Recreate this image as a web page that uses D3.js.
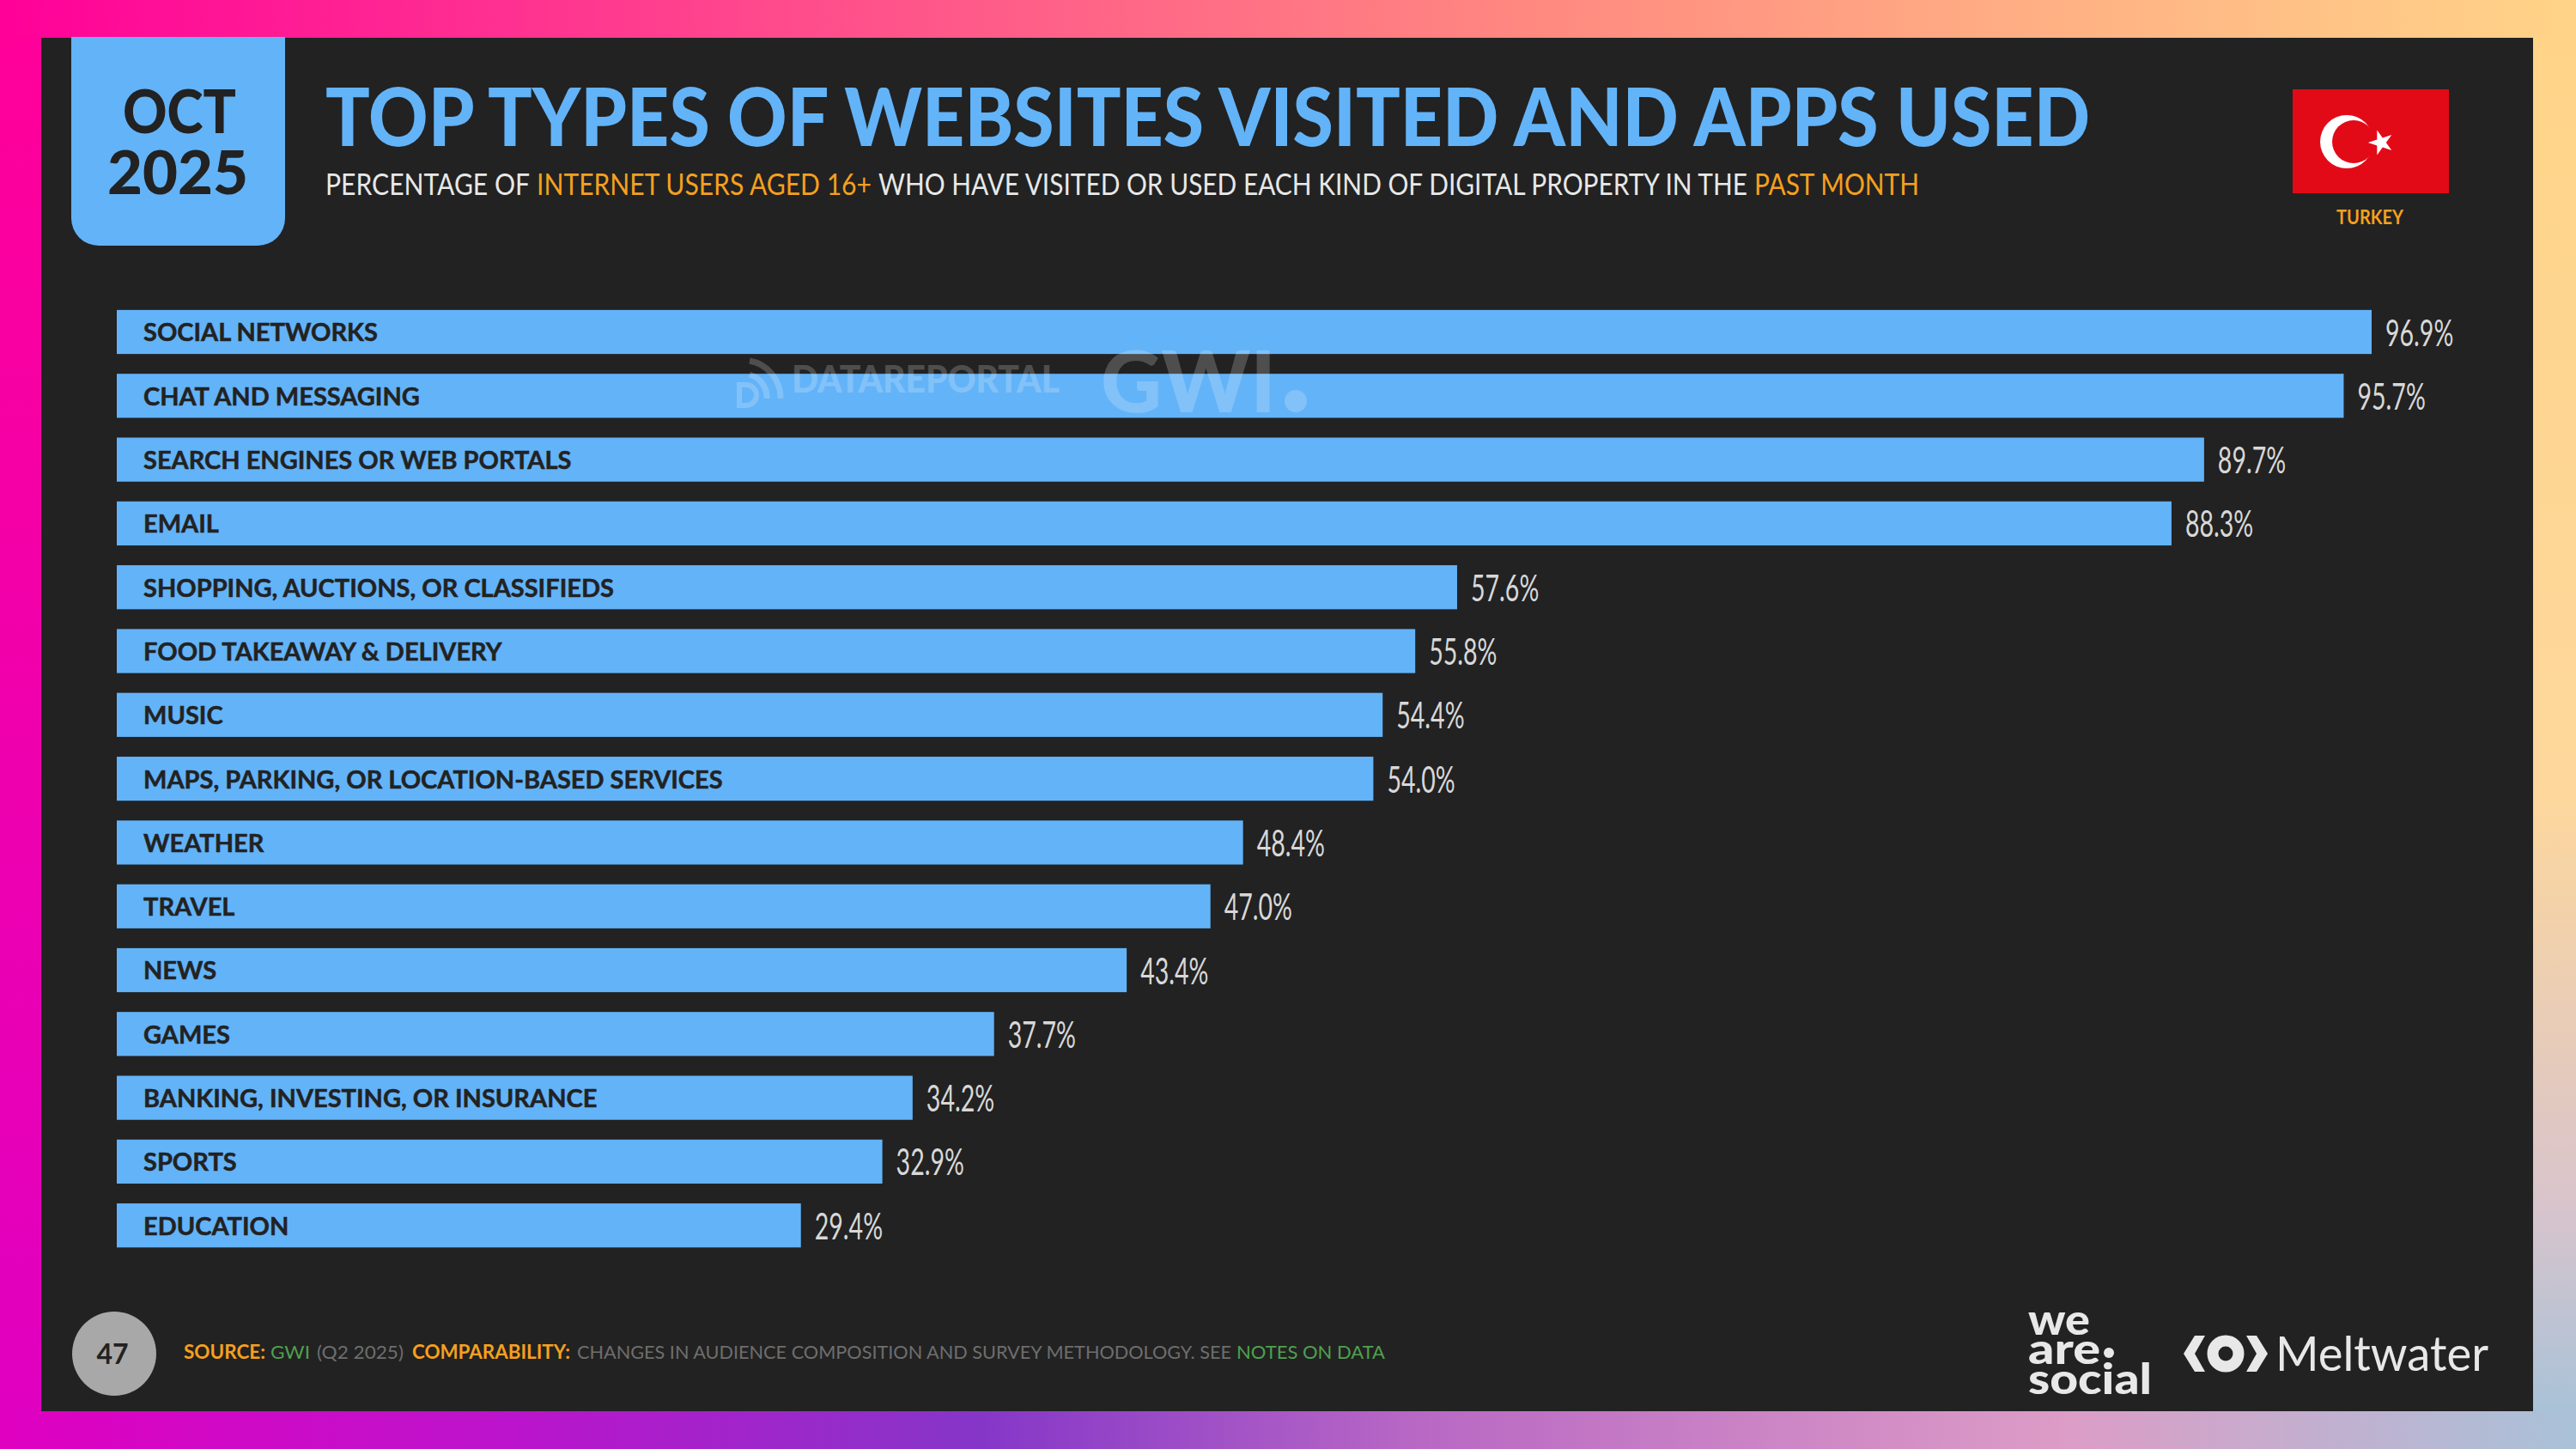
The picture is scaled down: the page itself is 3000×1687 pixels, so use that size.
<!DOCTYPE html>
<html lang="en">
  <head>
    <meta charset="UTF-8" />
    <title>Top types of websites visited and apps used</title>
    <style>
      html, body { margin: 0; padding: 0; background: #222; }
      svg { display: block; }
      text { font-family: Lato, "Noto Sans", sans-serif; }
    </style>
  </head>
  <body>
    <svg width="3000" height="1687"></svg>

    <script src="https://d3js.org/d3.v7.min.js"></script>
    <script>
      const categories = [
        "SOCIAL NETWORKS",
        "CHAT AND MESSAGING",
        "SEARCH ENGINES OR WEB PORTALS",
        "EMAIL",
        "SHOPPING, AUCTIONS, OR CLASSIFIEDS",
        "FOOD TAKEAWAY & DELIVERY",
        "MUSIC",
        "MAPS, PARKING, OR LOCATION-BASED SERVICES",
        "WEATHER",
        "TRAVEL",
        "NEWS",
        "GAMES",
        "BANKING, INVESTING, OR INSURANCE",
        "SPORTS",
        "EDUCATION",
      ];
      const values = [96.9, 95.7, 89.7, 88.3, 57.6, 55.8, 54.4, 54.0, 48.4, 47.0, 43.4, 37.7, 34.2, 32.9, 29.4];

      const BLUE = "#63b3f8";
      const DARK = "#222222";
      const ORANGE = "#f5a01e";
      const GREEN = "#4fa04f";

      const svg = d3.select("svg");
      const defs = svg.append("defs");

      const addGradient = (id, vertical, stops) => {
        const g = defs
          .append("linearGradient")
          .attr("id", id)
          .attr("x1", 0)
          .attr("y1", 0)
          .attr("x2", vertical ? 0 : 1)
          .attr("y2", vertical ? 1 : 0);
        stops.forEach(([o, c]) => g.append("stop").attr("offset", o).attr("stop-color", c));
      };

      // the coloured frame only shows around the panel, so four strips are enough
      addGradient("gTop", false, [[0, "#ff0099"], [0.3, "#ff4a8c"], [0.6, "#ff8a80"], [0.8, "#ffb184"], [1, "#ffd488"]]);
      addGradient("gBottom", false, [[0, "#e000c0"], [0.2, "#bb14cc"], [0.38, "#8536c8"], [0.55, "#b868c4"], [0.8, "#dc9cc6"], [1, "#a9c2d8"]]);
      addGradient("gLeft", true, [[0, "#ff0099"], [1, "#e000c0"]]);
      addGradient("gRight", true, [[0, "#ffd488"], [0.55, "#fdd79c"], [0.85, "#d8c4cc"], [1, "#a9c2d8"]]);

      svg.append("rect").attr("width", 3000).attr("height", 1687).attr("fill", "#222");
      svg.append("rect").attr("width", 3000).attr("height", 44).attr("fill", "url(#gTop)");
      svg.append("rect").attr("y", 1643).attr("width", 3000).attr("height", 44).attr("fill", "url(#gBottom)");
      svg.append("rect").attr("y", 43).attr("width", 48).attr("height", 1601).attr("fill", "url(#gLeft)");
      svg.append("rect").attr("x", 2950).attr("y", 43).attr("width", 50).attr("height", 1601).attr("fill", "url(#gRight)");

      // text with a fixed start and width, the reference face is narrower than anything installed
      const fitted = (x, y, width, str, size, weight, fill, parent = svg) =>
        parent
          .append("text")
          .attr("x", x)
          .attr("y", y)
          .attr("textLength", width)
          .attr("lengthAdjust", "spacingAndGlyphs")
          .attr("font-size", size)
          .attr("font-weight", weight)
          .attr("fill", fill)
          .text(str);

      // date tab
      svg
        .append("path")
        .attr("d", "M83,43H332V254a32,32 0 0 1 -32,32H115a32,32 0 0 1 -32,-32Z")
        .attr("fill", BLUE);
      fitted(143, 155, 132, "OCT", 71, 900, DARK);
      fitted(125, 226, 164, "2025", 71, 900, DARK);

      // headings
      fitted(379, 170, 2055, "TOP TYPES OF WEBSITES VISITED AND APPS USED", 93, 900, BLUE);
      fitted(379, 227, 238, "PERCENTAGE OF", 34, 400, "#e8e8e8");
      fitted(625, 227, 390, "INTERNET USERS AGED 16+", 34, 400, ORANGE);
      fitted(1023, 227, 1012, "WHO HAVE VISITED OR USED EACH KIND OF DIGITAL PROPERTY IN THE", 34, 400, "#e8e8e8");
      fitted(2043, 227, 192, "PAST MONTH", 34, 400, ORANGE);

      // flag
      svg.append("rect").attr("x", 2670).attr("y", 104).attr("width", 182).attr("height", 121).attr("fill", "#e30a17");
      svg.append("circle").attr("cx", 2733).attr("cy", 165).attr("r", 31).attr("fill", "#fff");
      svg.append("circle").attr("cx", 2741).attr("cy", 165).attr("r", 25).attr("fill", "#e30a17");
      svg
        .append("path")
        .attr("d", d3.symbol(d3.symbolStar, 260)())
        .attr("transform", "translate(2773,166) rotate(-18)")
        .attr("fill", "#fff");
      fitted(2721, 261, 78, "TURKEY", 22, 700, ORANGE);

      // bars
      const margin = { left: 136, top: 349.35, bottom: 1463.85 };
      const x = d3.scaleLinear().domain([0, 100]).range([margin.left, margin.left + 2710]);
      const y = d3
        .scaleBand()
        .domain(categories)
        .range([margin.top, margin.bottom])
        .paddingInner(0.31)
        .paddingOuter(0.155);

      const rows = svg
        .append("g")
        .selectAll("g")
        .data(categories)
        .join("g")
        .attr("transform", (d) => `translate(0,${y(d)})`);

      rows
        .append("rect")
        .attr("x", x(0))
        .attr("width", (d, i) => x(values[i]) - x(0))
        .attr("height", y.bandwidth())
        .attr("fill", BLUE);

      rows
        .append("text")
        .attr("x", x(0) + 31)
        .attr("y", y.bandwidth() / 2 + 11)
        .attr("font-size", 29)
        .attr("font-weight", 700)
        .attr("fill", DARK)
        .attr("stroke", DARK)
        .attr("stroke-width", 0.5)
        .text((d) => d);

      rows
        .append("text")
        .attr("transform", (d, i) => `translate(${x(values[i]) + 16},${y.bandwidth() / 2 + 16}) scale(0.68,1)`)
        .attr("font-size", 42)
        .attr("fill", "#d8d8d8")
        .text((d, i) => values[i].toFixed(1) + "%");

      // watermark
      const mark = svg.append("g").attr("fill", "#fff").attr("opacity", 0.2);
      fitted(922, 457, 312, "DATAREPORTAL", 44, 900, "#fff", mark);
      fitted(1282, 480, 204, "GWI", 100, 900, "#fff", mark);
      mark.append("circle").attr("cx", 1509).attr("cy", 467).attr("r", 13);
      mark
        .append("path")
        .attr("d", "M873,420a44,44 0 0 1 36,44M873,436a28,28 0 0 1 20,28")
        .attr("fill", "none")
        .attr("stroke", "#fff")
        .attr("stroke-width", 7);
      mark
        .append("path")
        .attr("d", "M861,448h8a12,12 0 0 1 0,24h-8Z")
        .attr("fill", "none")
        .attr("stroke", "#fff")
        .attr("stroke-width", 6);

      // footer
      svg.append("circle").attr("cx", 133).attr("cy", 1576).attr("r", 49).attr("fill", "#a8a8a8");
      svg
        .append("text")
        .attr("x", 131)
        .attr("y", 1588)
        .attr("text-anchor", "middle")
        .attr("font-size", 32)
        .attr("font-weight", 700)
        .attr("fill", DARK)
        .text("47");
      const footY = 1582;
      fitted(214, footY, 95, "SOURCE:", 22, 700, ORANGE);
      fitted(315, footY, 46, "GWI", 22, 400, GREEN);
      fitted(369, footY, 101, "(Q2 2025)", 22, 400, "#6e6e6e");
      fitted(480, footY, 184, "COMPARABILITY:", 22, 700, ORANGE);
      fitted(672, footY, 762, "CHANGES IN AUDIENCE COMPOSITION AND SURVEY METHODOLOGY. SEE", 22, 400, "#6e6e6e");
      fitted(1440, footY, 173, "NOTES ON DATA", 22, 400, GREEN);

      // logos, the three words stack tighter than their line boxes so they share one text
      const LOGO = "#e8e8e8";
      const stacked = svg
        .append("text")
        .attr("font-size", 50)
        .attr("font-weight", 900)
        .attr("fill", LOGO);
      stacked.append("tspan").attr("x", 2362).attr("y", 1554).attr("textLength", 72).attr("lengthAdjust", "spacingAndGlyphs").text("we");
      stacked.append("tspan").attr("x", 2362).attr("y", 1588).attr("textLength", 84).attr("lengthAdjust", "spacingAndGlyphs").text("are");
      stacked.append("tspan").attr("x", 2362).attr("y", 1623).attr("textLength", 144).attr("lengthAdjust", "spacingAndGlyphs").text("social");
      svg.append("circle").attr("cx", 2456).attr("cy", 1575).attr("r", 6).attr("fill", LOGO);

      svg
        .append("path")
        .attr("d", "M2568,1555h-12l-13,21l13,21h12l-12,-21ZM2616,1555h12l13,21l-13,21h-12l12,-21Z")
        .attr("fill", LOGO);
      svg
        .append("circle")
        .attr("cx", 2592)
        .attr("cy", 1576)
        .attr("r", 15)
        .attr("fill", "none")
        .attr("stroke", LOGO)
        .attr("stroke-width", 13);
      fitted(2650, 1596, 248, "Meltwater", 56, 400, LOGO);
    </script>
  </body>
</html>
